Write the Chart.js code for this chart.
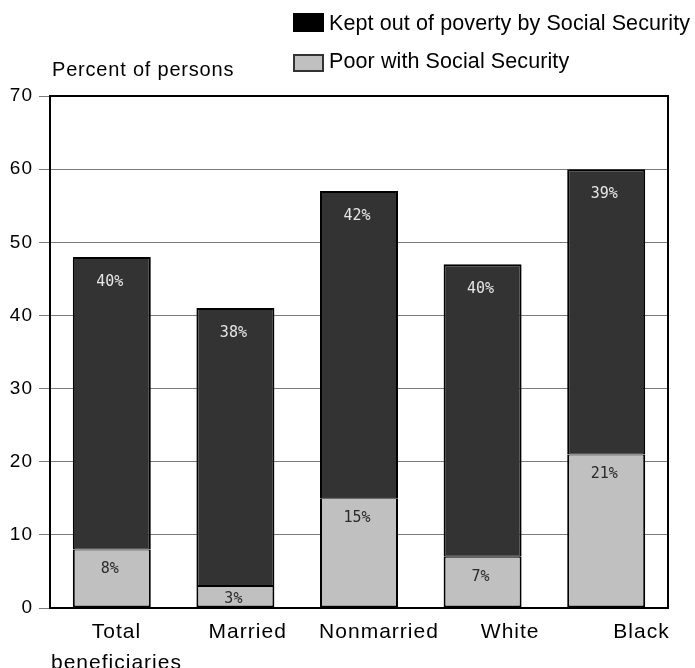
<!DOCTYPE html>
<html>
<head>
  <title>Percent of persons</title>
  <script src="https://cdn.jsdelivr.net/npm/chart.js"></script>
  <style>
    body {
      margin: 0;
      background: #fff;
      font-family: "Liberation Sans", Arial, sans-serif;
    }
    .wrap {
      position: relative;
      width: 695px;
      height: 668px;
    }
    canvas {
      position: absolute;
      left: 0;
      top: 0;
    }
    .txt {
      position: absolute;
      font-size: 20px;
      line-height: 20px;
      letter-spacing: 0.8px;
      color: #000;
      white-space: nowrap;
    }
    .leg {
      font-size: 21.5px;
      letter-spacing: 0.1px;
    }
    .box {
      position: absolute;
      box-sizing: border-box;
    }
  </style>
</head>
<body>
  <div class="wrap">
    <canvas id="chart" width="695" height="668"></canvas>
    <div class="box" style="left:293px;top:13px;width:31px;height:19px;background:#000;"></div>
    <div class="txt leg" style="left:329px;top:13px;">Kept out of poverty by Social Security</div>
    <div class="box" style="left:293px;top:54px;width:31px;height:18px;background:#c0c0c0;border:2px solid #333;"></div>
    <div class="txt leg" style="left:329px;top:51px;">Poor with Social Security</div>
    <div class="txt" style="left:52px;top:59px;">Percent of persons</div>
  </div>

  <script>
    // values
    const categories = [['Total', 'beneficiaries'], 'Married', 'Nonmarried', 'White', 'Black'];
    const poorWithSS = [8, 3, 15, 7, 21];
    const keptOut = [40, 38, 42, 40, 39];
    const yTicks = [0, 10, 20, 30, 40, 50, 60, 70];

    // frame round the plot area
    const framePlugin = {
      id: 'frame',
      afterDraw(chart) {
        const { ctx, chartArea: a } = chart;
        ctx.save();
        ctx.strokeStyle = '#000';
        ctx.lineWidth = 2;
        ctx.strokeRect(a.left, a.top, a.right - a.left, a.bottom - a.top);
        ctx.restore();
      }
    };

    // wider text, like the original
    const spacingPlugin = {
      id: 'spacing',
      beforeDraw(chart) { chart.ctx.letterSpacing = '1px'; },
      afterDraw(chart) { chart.ctx.letterSpacing = '0px'; }
    };

    // percent labels inside the bars
    const valueLabels = {
      id: 'valueLabels',
      afterDatasetsDraw(chart) {
        const ctx = chart.ctx;
        ctx.save();
        ctx.letterSpacing = '0px';
        ctx.font = '15px "DejaVu Sans Mono", monospace';
        ctx.textAlign = 'center';
        ctx.textBaseline = 'middle';
        chart.data.datasets.forEach((ds, di) => {
          chart.getDatasetMeta(di).data.forEach((bar, i) => {
            const h = bar.base - bar.y;
            const y = h < 40 ? (bar.y + bar.base) / 2 + 2 : bar.y + ds.labelOffset;
            ctx.fillStyle = ds.labelColor;
            ctx.fillText(ds.data[i] + '%', bar.x - 2, y);
          });
        });
        ctx.restore();
      }
    };

    const font = '"Liberation Sans", Arial, sans-serif';

    new Chart(document.getElementById('chart'), {
      type: 'bar',
      data: {
        labels: categories,
        datasets: [
          {
            label: 'Poor with Social Security',
            data: poorWithSS,
            backgroundColor: '#c0c0c0',
            borderColor: '#000',
            borderWidth: { top: 1, left: 2, right: 2, bottom: 2 },
            borderSkipped: false,
            barPercentage: 0.631,
            categoryPercentage: 1,
            labelColor: '#2a2a2a',
            labelOffset: 20
          },
          {
            label: 'Kept out of poverty by Social Security',
            data: keptOut,
            backgroundColor: '#333333',
            borderColor: '#000',
            borderWidth: { top: 2, left: 2, right: 2, bottom: 1 },
            borderSkipped: false,
            barPercentage: 0.631,
            categoryPercentage: 1,
            labelColor: '#e6e6e6',
            labelOffset: 25
          }
        ]
      },
      options: {
        responsive: false,
        animation: false,
        layout: { padding: { top: 96, right: 27, left: 0, bottom: 0 } },
        plugins: {
          legend: { display: false },
          tooltip: { enabled: false }
        },
        scales: {
          x: { type: 'category', stacked: true, display: false },
          x2: {
            type: 'linear',
            position: 'bottom',
            offset: false,
            min: -0.5064,
            max: 4.2022,
            grid: { display: false, drawTicks: false, offset: false },
            border: { display: false },
            afterBuildTicks: s => { s.ticks = categories.map((c, i) => ({ value: i })); },
            afterFit: s => { s.height = 60; },
            ticks: {
              autoSkip: false,
              maxRotation: 0,
              padding: 8,
              color: '#000',
              font: { family: font, size: 21, lineHeight: 1.5 },
              callback: v => categories[v]
            }
          },
          y: {
            stacked: true,
            min: 0,
            max: 70,
            afterBuildTicks: s => { s.ticks = yTicks.map(v => ({ value: v })); },
            afterFit: s => { s.width = 50; },
            grid: { color: '#7a7a7a', lineWidth: 1, tickLength: 11 },
            border: { display: false },
            ticks: {
              padding: 6,
              color: '#000',
              font: { family: font, size: 19 }
            }
          }
        }
      },
      plugins: [spacingPlugin, valueLabels, framePlugin]
    });
  </script>
</body>
</html>
